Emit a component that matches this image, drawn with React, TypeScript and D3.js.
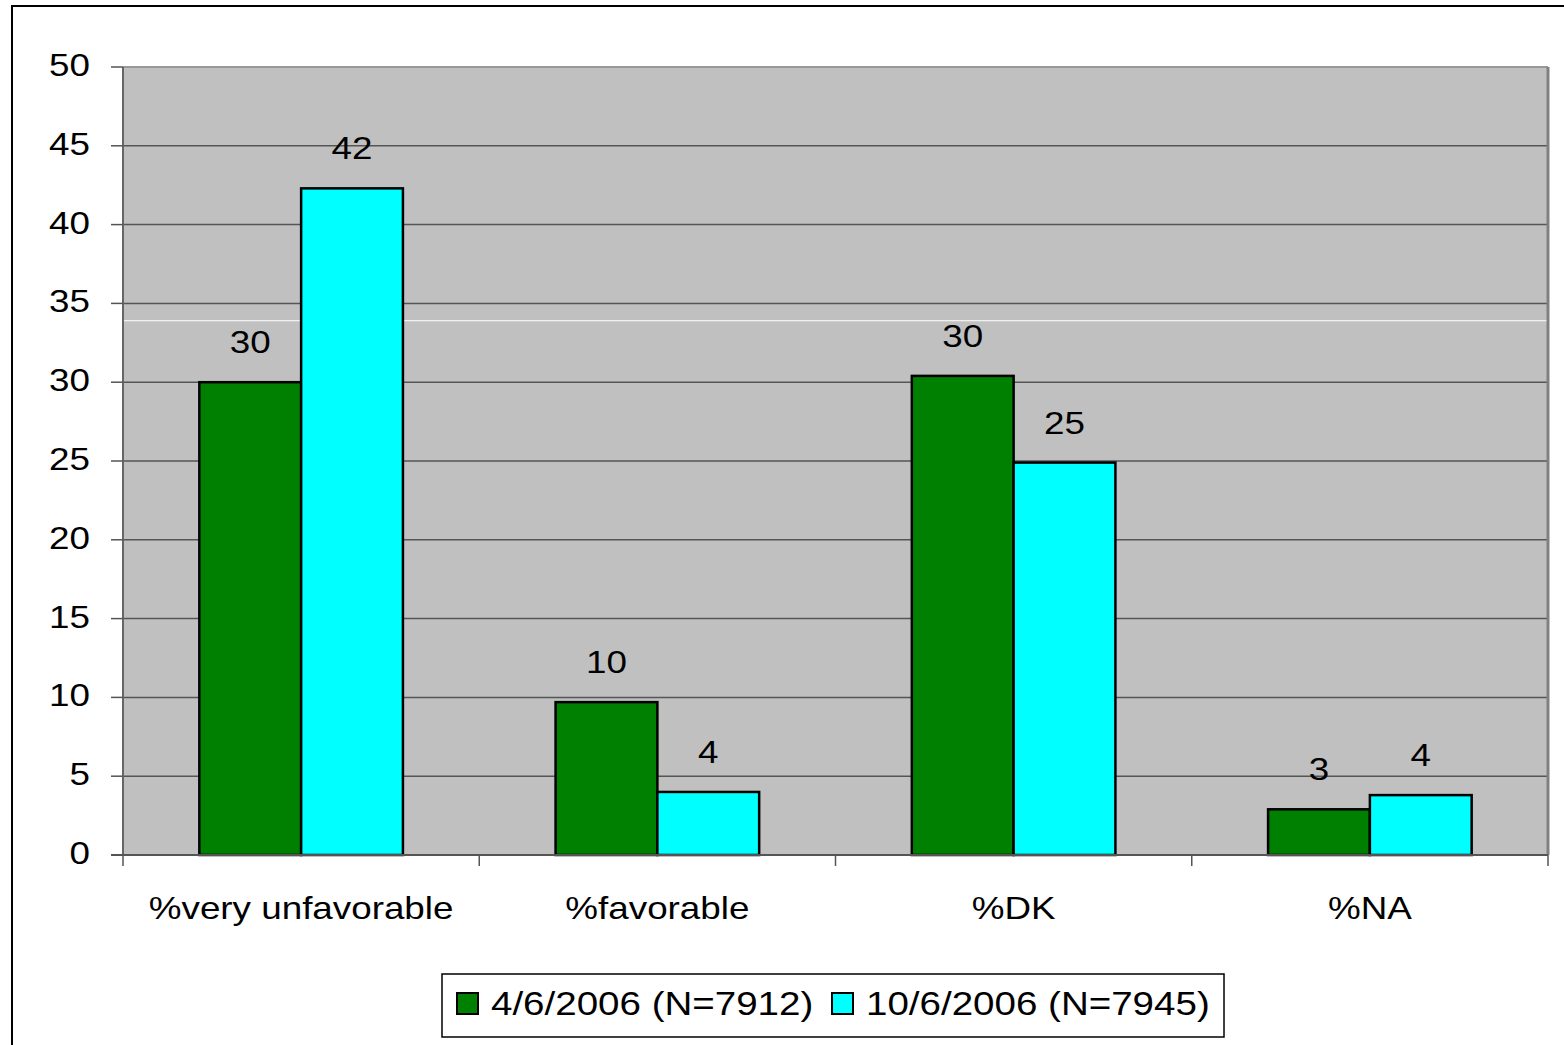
import React from "react";
import * as d3 from "d3";

const categories = ["%very unfavorable", "%favorable", "%DK", "%NA"];
const seriesNames = ["4/6/2006 (N=7912)", "10/6/2006 (N=7945)"];
const seriesColors = ["#008000", "#00FFFF"];
const series1 = [30.0, 9.7, 30.4, 2.9];
const series2 = [42.3, 4.0, 24.9, 3.8];
const yTicks = [0, 5, 10, 15, 20, 25, 30, 35, 40, 45, 50];

const W = 1564;
const H = 1045;
const plot = { left: 123, right: 1548, top: 67, bottom: 855 };
const FONT = "'Liberation Sans', Arial, sans-serif";
const FS = 32;
const LFS = 33.5;
const SX = 1.15;

export default function App() {
  const y = d3.scaleLinear().domain([0, 50]).range([plot.bottom, plot.top]);
  const x0 = d3.scaleBand<string>().domain(categories).range([plot.left, plot.right]).padding(0);
  const x1 = d3
    .scaleBand<string>()
    .domain(seriesNames)
    .range([0, x0.bandwidth()])
    .paddingInner(0)
    .paddingOuter(0.75);
  const data = [series1, series2];
  const fmt = d3.format(".0f");
  const boundaries = [...categories.map((c) => x0(c) as number), plot.right];

  return (
    <svg
      width={W}
      height={H}
      style={{ position: "absolute", left: 0, top: 0, background: "#fff" }}
      fontFamily={FONT}
    >
      <rect x={12} y={6} width={W + 20} height={H + 20} fill="#fff" stroke="#000" strokeWidth={2} />
      <rect
        x={plot.left}
        y={plot.top}
        width={plot.right - plot.left}
        height={plot.bottom - plot.top}
        fill="#C0C0C0"
      />
      {yTicks
        .filter((t) => t > 0 && t < 50)
        .map((t) => (
          <line key={"g" + t} x1={plot.left} x2={plot.right} y1={y(t)} y2={y(t)} stroke="#555" strokeWidth={1.5} />
        ))}
      <line x1={plot.left} x2={plot.right} y1={y(33.9)} y2={y(33.9)} stroke="#fff" strokeWidth={1} />
      <line x1={plot.left} x2={plot.right} y1={plot.top} y2={plot.top} stroke="#999" strokeWidth={2} />
      <line x1={plot.right} x2={plot.right} y1={plot.top} y2={plot.bottom} stroke="#808080" strokeWidth={3} />
      {data.map((vals, si) =>
        categories.map((c, ci) => {
          const bx = (x0(c) as number) + (x1(seriesNames[si]) as number);
          return (
            <rect
              key={`b${si}-${ci}`}
              x={bx}
              y={y(vals[ci])}
              width={x1.bandwidth()}
              height={y(0) - y(vals[ci])}
              fill={seriesColors[si]}
              stroke="#000"
              strokeWidth={2.5}
            />
          );
        })
      )}
      <line x1={plot.left} x2={plot.left} y1={plot.top} y2={plot.bottom} stroke="#666" strokeWidth={2} />
      <line x1={plot.left - 12} x2={plot.right} y1={plot.bottom} y2={plot.bottom} stroke="#555" strokeWidth={2} />
      {yTicks.map((t) => (
        <g key={"t" + t}>
          <line x1={plot.left - 12} x2={plot.left} y1={y(t)} y2={y(t)} stroke="#555" strokeWidth={1.5} />
          <text
            transform={`translate(90,${y(t) + 9}) scale(${SX},1)`}
            textAnchor="end"
            fontSize={FS}
            fill="#000"
          >
            {t}
          </text>
        </g>
      ))}
      {boundaries.map((bx, i) => (
        <line key={"xt" + i} x1={bx} x2={bx} y1={plot.bottom} y2={plot.bottom + 11} stroke="#555" strokeWidth={1.5} />
      ))}
      {categories.map((c) => (
        <text
          key={"c" + c}
          transform={`translate(${(x0(c) as number) + x0.bandwidth() / 2},919) scale(${SX},1)`}
          textAnchor="middle"
          fontSize={FS}
          fill="#000"
        >
          {c}
        </text>
      ))}
      {data.map((vals, si) =>
        categories.map((c, ci) => {
          const cx = (x0(c) as number) + (x1(seriesNames[si]) as number) + x1.bandwidth() / 2;
          return (
            <text
              key={`l${si}-${ci}`}
              transform={`translate(${cx},${y(vals[ci]) - 29}) scale(${SX},1)`}
              textAnchor="middle"
              fontSize={FS}
              fill="#000"
            >
              {fmt(vals[ci])}
            </text>
          );
        })
      )}
      <g>
        <rect x={442} y={974} width={782} height={63} fill="#fff" stroke="#000" strokeWidth={1.5} />
        <rect x={457} y={993} width={21} height={21} fill={seriesColors[0]} stroke="#000" strokeWidth={2} />
        <text transform={`translate(491,1015) scale(${SX},1)`} fontSize={LFS} fill="#000">
          {seriesNames[0]}
        </text>
        <rect x={832} y={993} width={21} height={21} fill={seriesColors[1]} stroke="#000" strokeWidth={2} />
        <text transform={`translate(866,1015) scale(${SX},1)`} fontSize={LFS} fill="#000">
          {seriesNames[1]}
        </text>
      </g>
    </svg>
  );
}
